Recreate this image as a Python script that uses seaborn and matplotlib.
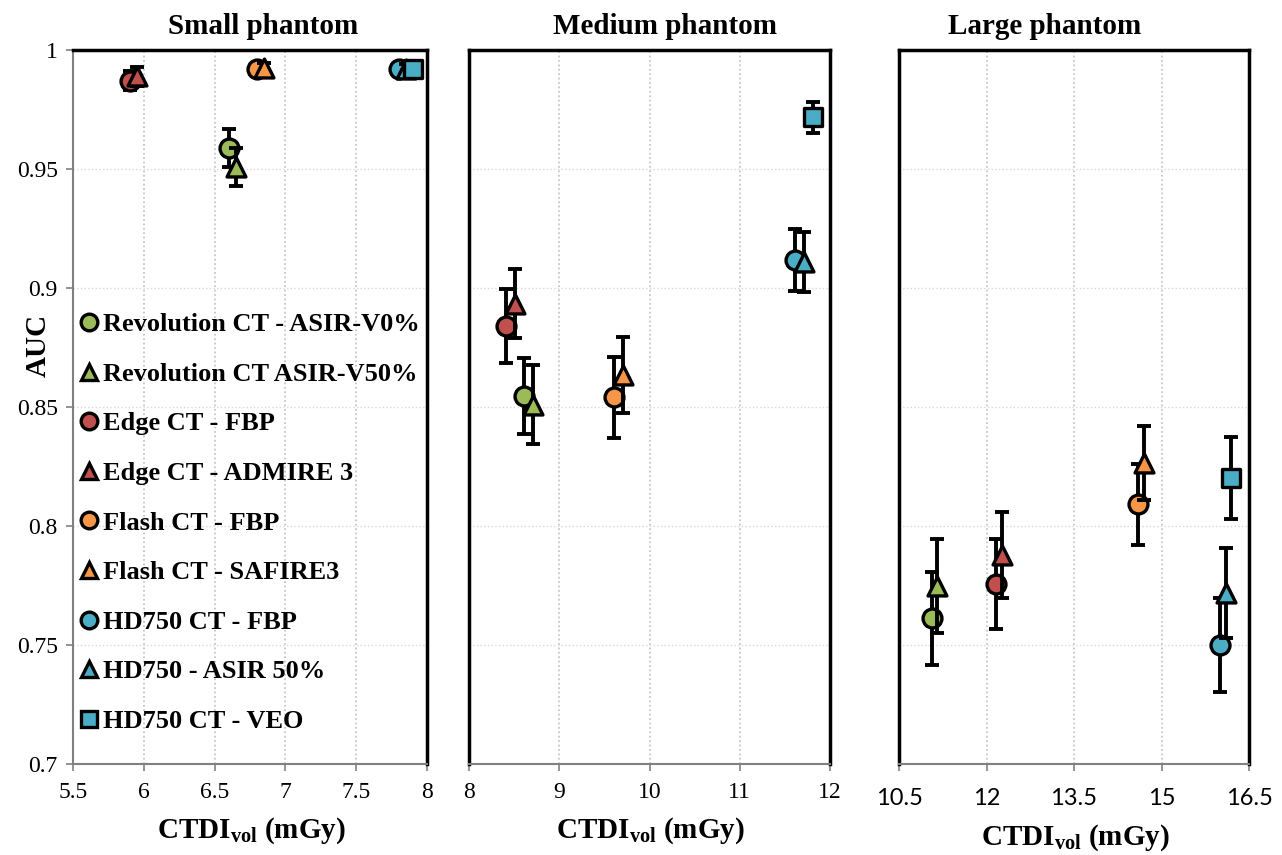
import numpy as np
import pandas as pd
import matplotlib
matplotlib.use("Agg")
import matplotlib.pyplot as plt
import seaborn as sns
from matplotlib.lines import Line2D

sns.set_theme(style="white")
plt.rcParams['font.family'] = ['Liberation Serif', 'DejaVu Serif']
plt.rcParams['mathtext.fontset'] = 'custom'
plt.rcParams['mathtext.rm'] = 'Liberation Serif'
plt.rcParams['mathtext.bf'] = 'Liberation Serif:bold'
plt.rcParams['text.color'] = 'black'
plt.rcParams['xtick.color'] = 'black'
plt.rcParams['ytick.color'] = 'black'
plt.rcParams['axes.labelcolor'] = 'black'

# ---------------- data ----------------
series = ["Revolution CT - ASIR-V0%", "Revolution CT ASIR-V50%", "Edge CT - FBP",
          "Edge CT - ADMIRE 3", "Flash CT - FBP", "Flash CT - SAFIRE3",
          "HD750 CT - FBP", "HD750 - ASIR 50%", "HD750 CT - VEO"]
colors = ["#9BBB59", "#9BBB59", "#C0504D", "#C0504D", "#F79646", "#F79646",
          "#4BACC6", "#4BACC6", "#4BACC6"]
markers = ["o", "^", "o", "^", "o", "^", "o", "^", "s"]

small_x = [6.60, 6.65, 5.90, 5.95, 6.80, 6.85, 7.80, 7.85, 7.90]
small_auc = [0.959, 0.951, 0.987, 0.989, 0.992, 0.9925, 0.992, 0.992, 0.992]
small_err = [0.008, 0.008, 0.004, 0.004, 0.002, 0.002, 0.002, 0.002, 0.002]

medium_x = [8.61, 8.71, 8.41, 8.51, 9.61, 9.71, 11.61, 11.71, 11.81]
medium_auc = [0.8546, 0.851, 0.884, 0.8933, 0.854, 0.8635, 0.9118, 0.911, 0.9718]
medium_err = [0.016, 0.0165, 0.0155, 0.0145, 0.017, 0.016, 0.013, 0.0125, 0.0065]

large_x = [11.07, 11.15, 12.16, 12.27, 14.60, 14.70, 16.00, 16.10, 16.20]
large_auc = [0.7613, 0.7748, 0.7756, 0.7878, 0.8092, 0.8265, 0.750, 0.7718, 0.8202]
large_err = [0.0195, 0.0197, 0.019, 0.018, 0.017, 0.0155, 0.0197, 0.019, 0.0172]

titles = ["Small phantom", "Medium phantom", "Large phantom"]
xlims = [(5.5, 8.0), (8.0, 12.0), (10.5, 16.5)]
xticks = [[5.5, 6, 6.5, 7, 7.5, 8], [8, 9, 10, 11, 12], [10.5, 12, 13.5, 15, 16.5]]
xticklabels = [["5.5", "6", "6.5", "7", "7.5", "8"], ["8", "9", "10", "11", "12"],
               ["10.5", "12", "13.5", "15", "16.5"]]
yticks = [0.7, 0.75, 0.8, 0.85, 0.9, 0.95, 1.0]
yticklabels = ["0.7", "0.75", "0.8", "0.85", "0.9", "0.95", "1"]

panels = [(small_x, small_auc, small_err), (medium_x, medium_auc, medium_err),
          (large_x, large_auc, large_err)]

# ---------------- figure ----------------
W, H = 1282, 855
fig = plt.figure(figsize=(W / 100, H / 100), dpi=100)

def px_axes(l, r, t, b):
    return fig.add_axes([l / W, 1 - b / H, (r - l) / W, (b - t) / H])

axes = [px_axes(73, 427, 50, 764), px_axes(469, 830, 50, 764), px_axes(899, 1249, 50, 764)]
title_x = [263, 665, 1045]
xlabel_pos = [(251, 831), (650, 831), (1075, 838)]

for i, ax in enumerate(axes):
    xs, ys, es = panels[i]
    df = pd.DataFrame({"x": xs, "auc": ys, "err": es, "series": series})
    for j, row in df.iterrows():
        ax.errorbar(row["x"], row["auc"], yerr=row["err"], fmt="none",
                    ecolor="black", elinewidth=2.8, capsize=5, capthick=2.8,
                    zorder=2 + 2 * j)
        sub = df.iloc[[j]]
        sns.scatterplot(data=sub, x="x", y="auc", ax=ax, color=colors[j],
                        marker=markers[j], s=185 if markers[j] != "s" else 165,
                        edgecolor="black", linewidth=2.4, legend=False,
                        zorder=3 + 2 * j)
    ax.set_xlim(*xlims[i])
    ax.set_ylim(0.7, 1.0)
    ax.set_xticks(xticks[i])
    ax.set_yticks(yticks)
    ax.set_xlabel("")
    ax.set_ylabel("")
    ax.xaxis.grid(True, color="#BFBFBF", linestyle=":", linewidth=1.2)
    ax.yaxis.grid(True, color="#D9D9D9", linestyle=":", linewidth=1.0)
    ax.set_axisbelow(True)
    for sp in ["top", "right"]:
        ax.spines[sp].set_color("black")
        ax.spines[sp].set_linewidth(2.5)
    ax.spines["bottom"].set_color("#808080")
    ax.spines["bottom"].set_linewidth(1.5)
    if i == 0:
        ax.spines["left"].set_color("#808080")
        ax.spines["left"].set_linewidth(1.5)
        ax.set_yticklabels(yticklabels, fontsize=17)
        ax.tick_params(axis="y", direction="out", length=5, width=1.2,
                       color="#808080", left=True, pad=6)
    else:
        ax.spines["left"].set_color("black")
        ax.spines["left"].set_linewidth(2.5)
        ax.set_yticklabels([])
        ax.tick_params(axis="y", left=False)
    if i == 2:
        ax.set_xticklabels(xticklabels[i], fontsize=17, family="Lato")
        ax.tick_params(axis="x", direction="out", length=5, width=1.2,
                       color="#808080", bottom=True, pad=12)
    else:
        ax.set_xticklabels(xticklabels[i], fontsize=17)
        ax.tick_params(axis="x", direction="out", length=5, width=1.2,
                       color="#808080", bottom=True, pad=8)
    fig.text(title_x[i] / W, 1 - 27 / H, titles[i], ha="center", va="center",
             fontsize=21, fontweight="bold")
    fig.text(xlabel_pos[i][0] / W, 1 - xlabel_pos[i][1] / H,
             r"CTDI$_{\mathbf{vol}}$ (mGy)", ha="center", va="center",
             fontsize=21, fontweight="bold")

fig.text(38 / W, 1 - 345 / H, "AUC", rotation=90, ha="center", va="center",
         fontsize=21, fontweight="bold")

handles = [Line2D([], [], linestyle="none", marker=markers[j], markersize=12,
                  markerfacecolor=colors[j], markeredgecolor="black",
                  markeredgewidth=2.4) for j in range(len(series))]
leg = axes[0].legend(handles, series, loc="upper left",
                     bbox_to_anchor=(0.02, 0.632), frameon=False,
                     prop={"family": "Liberation Serif", "weight": "bold", "size": 19},
                     handlelength=0.7, handletextpad=0.15, labelspacing=0.99,
                     borderpad=0, borderaxespad=0)

fig.savefig("out.png", dpi=100)
